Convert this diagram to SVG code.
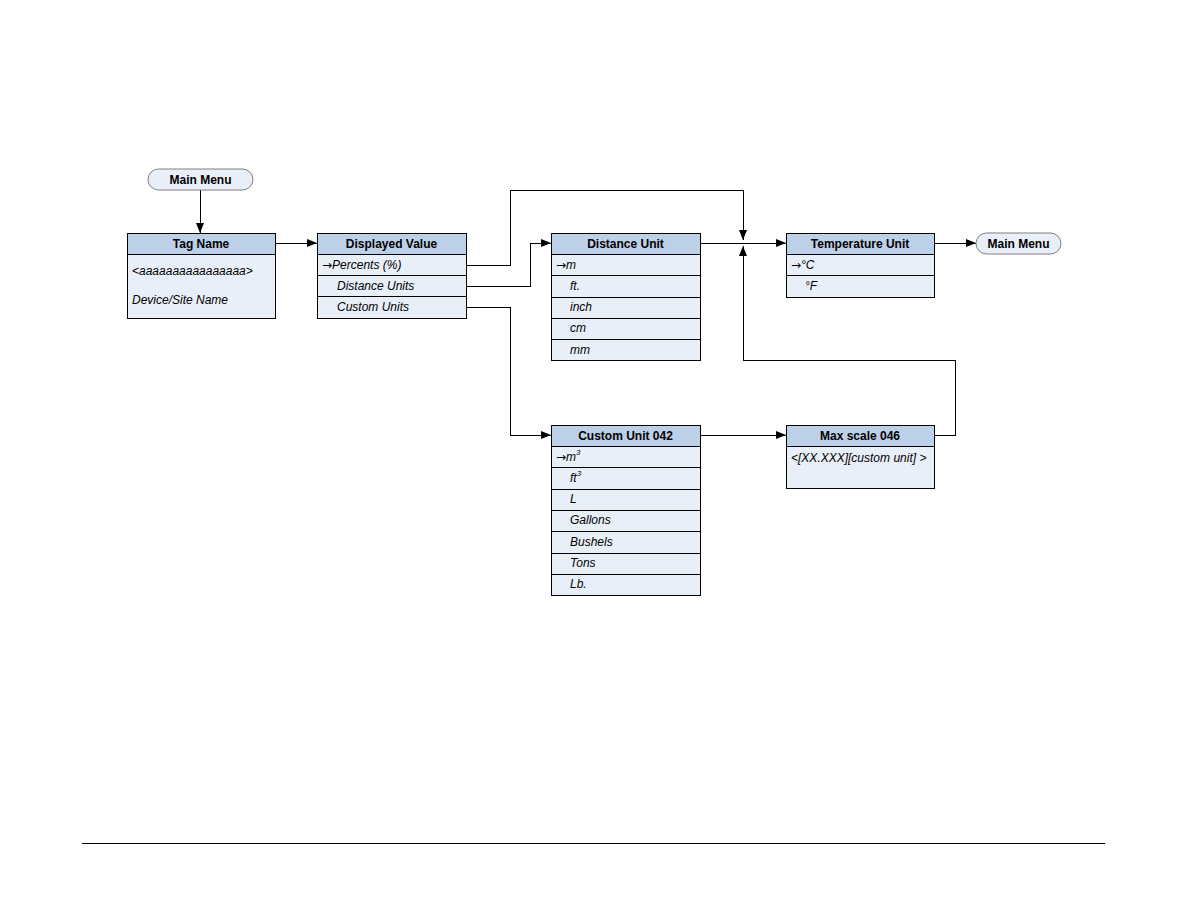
<svg xmlns="http://www.w3.org/2000/svg" width="1188" height="918" viewBox="0 0 1188 918">
<style>
.hd{fill:#bcd0e8;stroke:#000;stroke-width:1;shape-rendering:crispEdges}
.rw{fill:#e9eff8;stroke:#000;stroke-width:1;shape-rendering:crispEdges}
.pill{fill:#e9eff8;stroke:#7f7f7f;stroke-width:1}
.ht{font-family:"Liberation Sans",Arial,sans-serif;font-size:12px;font-weight:bold;text-anchor:middle;fill:#000}
.it{font-family:"Liberation Sans",Arial,sans-serif;font-size:12px;font-style:italic;fill:#000}
.ar{font-family:"DejaVu Sans",sans-serif;font-style:normal;font-size:12px}
.ln{fill:none;stroke:#000;stroke-width:1;shape-rendering:crispEdges}
</style>
<defs>
<marker id="ah" viewBox="0 0 10 10" refX="10" refY="5" markerWidth="10" markerHeight="10" markerUnits="userSpaceOnUse" orient="auto">
<path d="M0,1 L10,5 L0,9 Z" fill="#000"/>
</marker>
</defs>
<rect width="1188" height="918" fill="#fff"/>
<g id="connectors">
<path class="ln" d="M200,190 V233" marker-end="url(#ah)"/>
<path class="ln" d="M275,243 H317" marker-end="url(#ah)"/>
<path class="ln" d="M466,265 H510 V190 H743 V240" marker-end="url(#ah)"/>
<path class="ln" d="M466,286 H530 V243 H551" marker-end="url(#ah)"/>
<path class="ln" d="M466,307 H510 V435 H551" marker-end="url(#ah)"/>
<path class="ln" d="M700,243 H786" marker-end="url(#ah)"/>
<path class="ln" d="M700,435 H786" marker-end="url(#ah)"/>
<path class="ln" d="M934,435 H955 V360 H743 V246" marker-end="url(#ah)"/>
<path class="ln" d="M934,243 H976" marker-end="url(#ah)"/>
</g>
<g id="mainmenu1">
<rect class="pill" x="148" y="169" width="105" height="21" rx="10.5"/>
<text class="ht" x="200.5" y="183.5">Main Menu</text>
</g>
<g id="tagname">
<rect class="rw" x="127" y="254" width="148" height="64"/>
<rect class="hd" x="127" y="233" width="148" height="21"/>
<text class="ht" x="201" y="247.5">Tag Name</text>
<text class="it" x="132" y="275">&lt;aaaaaaaaaaaaaaaa&gt;</text>
<text class="it" x="132" y="304">Device/Site Name</text>
</g>
<g id="displayedvalue">
<rect class="hd" x="317" y="233" width="149" height="21"/>
<rect class="rw" x="317" y="254" width="149" height="21"/>
<rect class="rw" x="317" y="275" width="149" height="21"/>
<rect class="rw" x="317" y="296" width="149" height="22"/>
<text class="ht" x="391.5" y="247.5">Displayed Value</text>
<text class="it" x="322" y="268.5"><tspan class="ar">→</tspan>Percents (%)</text>
<text class="it" x="337" y="289.5">Distance Units</text>
<text class="it" x="337" y="311">Custom Units</text>
</g>
<g id="distanceunit">
<rect class="hd" x="551" y="233" width="149" height="21"/>
<rect class="rw" x="551" y="254" width="149" height="21"/>
<rect class="rw" x="551" y="275" width="149" height="22"/>
<rect class="rw" x="551" y="297" width="149" height="21"/>
<rect class="rw" x="551" y="318" width="149" height="21"/>
<rect class="rw" x="551" y="339" width="149" height="21"/>
<text class="ht" x="625.5" y="247.5">Distance Unit</text>
<text class="it" x="556" y="268.5"><tspan class="ar">→</tspan>m</text>
<text class="it" x="570" y="290">ft.</text>
<text class="it" x="570" y="311">inch</text>
<text class="it" x="570" y="332">cm</text>
<text class="it" x="570" y="353.5">mm</text>
</g>
<g id="temperatureunit">
<rect class="hd" x="786" y="233" width="148" height="21"/>
<rect class="rw" x="786" y="254" width="148" height="21"/>
<rect class="rw" x="786" y="275" width="148" height="22"/>
<text class="ht" x="860" y="247.5">Temperature Unit</text>
<text class="it" x="791" y="268.5"><tspan class="ar">→</tspan>°C</text>
<text class="it" x="805" y="290">°F</text>
</g>
<g id="mainmenu2">
<rect class="pill" x="976" y="233" width="85" height="21" rx="10.5"/>
<text class="ht" x="1018.5" y="247.5">Main Menu</text>
</g>
<g id="customunit">
<rect class="hd" x="551" y="425" width="149" height="21"/>
<rect class="rw" x="551" y="446" width="149" height="21"/>
<rect class="rw" x="551" y="467" width="149" height="22"/>
<rect class="rw" x="551" y="489" width="149" height="21"/>
<rect class="rw" x="551" y="510" width="149" height="21"/>
<rect class="rw" x="551" y="531" width="149" height="22"/>
<rect class="rw" x="551" y="553" width="149" height="21"/>
<rect class="rw" x="551" y="574" width="149" height="21"/>
<text class="ht" x="625.5" y="439.5">Custom Unit 042</text>
<text class="it" x="556" y="460.5"><tspan class="ar">→</tspan>m<tspan font-size="8" dy="-6">3</tspan></text>
<text class="it" x="570" y="482">ft<tspan font-size="8" dy="-6">3</tspan></text>
<text class="it" x="570" y="503">L</text>
<text class="it" x="570" y="524">Gallons</text>
<text class="it" x="570" y="545.5">Bushels</text>
<text class="it" x="570" y="567">Tons</text>
<text class="it" x="570" y="588">Lb.</text>
</g>
<g id="maxscale">
<rect class="rw" x="786" y="446" width="148" height="42"/>
<rect class="hd" x="786" y="425" width="148" height="21"/>
<text class="ht" x="860" y="439.5">Max scale 046</text>
<text class="it" x="791" y="462">&lt;[XX.XXX][custom unit] &gt;</text>
</g>
<line x1="82" y1="843.5" x2="1105" y2="843.5" stroke="#000" stroke-width="1"/>
</svg>
